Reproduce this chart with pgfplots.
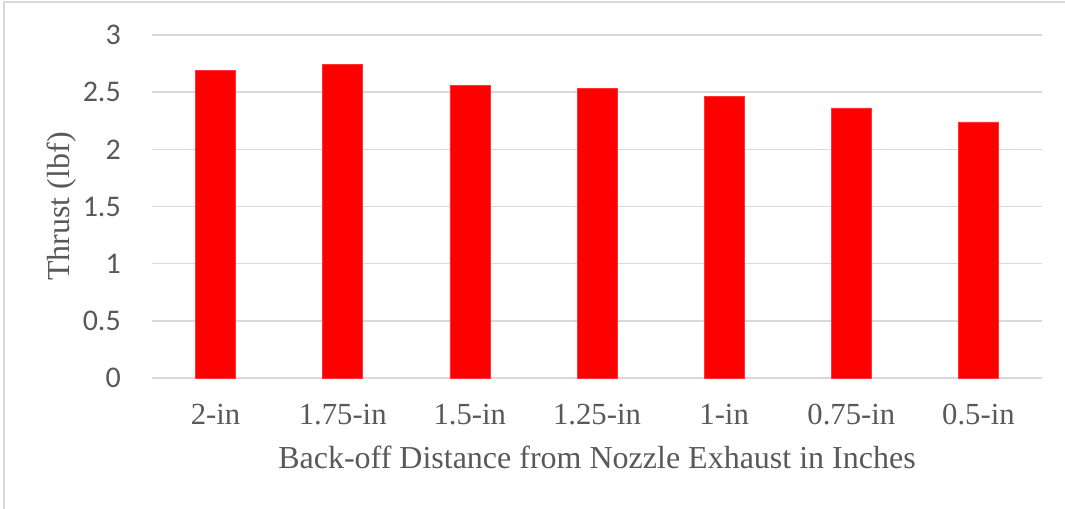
\documentclass[border=0pt]{standalone}
\usepackage{pgfplots}
\pgfplotsset{compat=1.18}
\usepackage{fontspec}
\setmainfont{Liberation Serif}
\newfontfamily\carlito{Carlito}
\definecolor{txt}{HTML}{595959}
\definecolor{grd}{HTML}{D9D9D9}
\definecolor{frm}{HTML}{D9D9D9}
\begin{document}
\begin{tikzpicture}
\useasboundingbox (0,0) rectangle (798.75pt,381.75pt);
\fill[white] (0,0) rectangle (798.75pt,381.75pt);
\draw[frm, line width=1.2pt] (3pt,0) -- (3pt,380.25pt) -- (798.75pt,380.25pt);
\begin{axis}[
  at={(114pt,98.25pt)}, anchor=south west,
  scale only axis, width=667.5pt, height=257.25pt,
  ybar, bar width=30pt,
  xmin=-0.5, xmax=6.5, ymin=0, ymax=3,
  xtick={0,1,2,3,4,5,6},
  xticklabels={2-in,1.75-in,1.5-in,1.25-in,1-in,0.75-in,0.5-in},
  ytick={0,0.5,1,1.5,2,2.5,3},
  /pgf/number format/assume math mode=true,
  yticklabel={\pgfmathprintnumber[fixed,precision=1]{\tick}},
  major tick length=0pt,
  axis line style={draw=none},
  ymajorgrids, grid style={grd, line width=1.1pt},
  yticklabel style={font=\carlito\fontsize{22.5pt}{27pt}\selectfont, text=txt, anchor=east, inner sep=0pt, xshift=-23.25pt},
  xticklabel style={font=\fontsize{23pt}{27pt}\selectfont, text=txt, anchor=base, inner sep=0pt, yshift=-35.25pt},
  xlabel={Back-off Distance from Nozzle Exhaust in Inches},
  ylabel={Thrust (lbf)},
  xlabel style={font=\fontsize{24pt}{28pt}\selectfont, text=txt, at={(axis description cs:0.5,0)}, anchor=base, inner sep=0pt, yshift=-68.25pt},
  ylabel style={font=\fontsize{24pt}{28pt}\selectfont, text=txt, at={(axis description cs:0,0.5)}, anchor=center, inner sep=0pt, yshift=67.5pt},
  clip=false,
]
\addplot[fill=red, draw=red!80!white, line width=0.4pt] coordinates {(0,2.688) (1,2.740) (2,2.556) (3,2.534) (4,2.464) (5,2.362) (6,2.239)};
\end{axis}
\end{tikzpicture}
\end{document}
